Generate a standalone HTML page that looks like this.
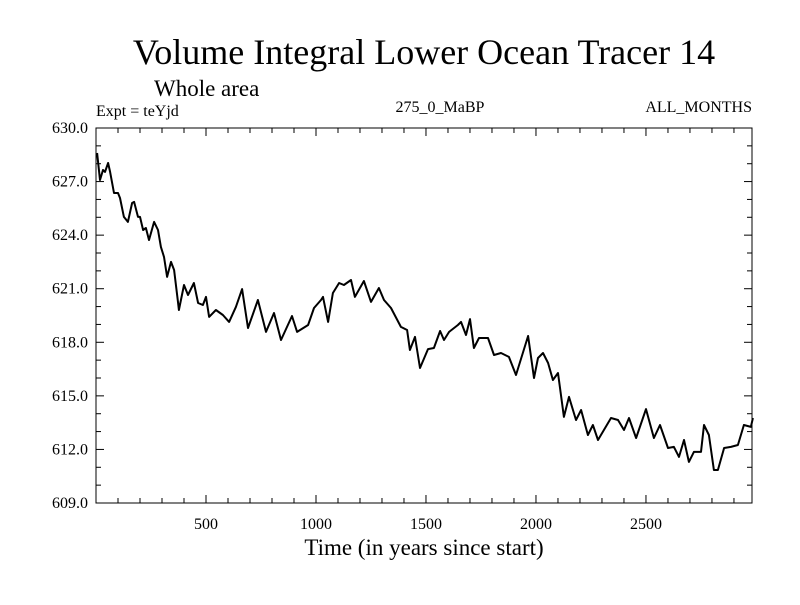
<!DOCTYPE html>
<html><head><meta charset="utf-8">
<style>
html,body{margin:0;padding:0;background:#fff;}
svg text{font-family:"Liberation Serif",serif;fill:#000;}
</style></head>
<body>
<svg id="chart" width="800" height="600" xmlns="http://www.w3.org/2000/svg">
<rect width="800" height="600" fill="#fff"/>
<text x="424" y="64" font-size="36" text-anchor="middle">Volume Integral Lower Ocean Tracer 14</text>
<text x="154" y="96" font-size="23">Whole area</text>
<text x="96" y="116" font-size="16">Expt = teYjd</text>
<text x="440" y="112" font-size="16" text-anchor="middle">275_0_MaBP</text>
<text x="752" y="112" font-size="16" text-anchor="end">ALL_MONTHS</text>
<text x="424" y="555" font-size="23" text-anchor="middle">Time (in years since start)</text>
<g id="axes"></g>
<path id="series" fill="none" stroke="#000" stroke-width="2" stroke-linejoin="round"/>
<rect x="96" y="128" width="656" height="375" fill="none" stroke="#000" stroke-width="1"/>
</svg>
<script>
const years=[5,18,32,41,55,64,82,100,109,127,145,164,173,191,200,214,227,241,264,282,295,309,323,341,355,373,377,400,418,445,464,486,500,514,545,577,605,636,664,691,736,773,809,841,891,914,964,991,1023,1032,1055,1077,1105,1127,1159,1177,1218,1250,1286,1309,1341,1386,1414,1427,1450,1473,1509,1536,1564,1582,1605,1645,1659,1682,1700,1718,1741,1782,1809,1841,1877,1909,1964,1991,2009,2032,2055,2077,2100,2127,2150,2182,2205,2236,2259,2282,2309,2341,2373,2400,2423,2455,2500,2536,2564,2600,2627,2650,2673,2695,2718,2750,2764,2786,2809,2827,2855,2886,2918,2945,2977,2986];
const values=[628.60,627.09,627.65,627.54,628.04,627.54,626.36,626.36,626.08,625.02,624.74,625.80,625.86,625.02,625.02,624.29,624.40,623.73,624.74,624.29,623.34,622.78,621.66,622.50,622.05,620.20,619.81,621.21,620.65,621.32,620.20,620.09,620.54,619.42,619.81,619.53,619.14,619.98,620.98,618.80,620.37,618.58,619.64,618.13,619.47,618.58,618.97,619.92,620.37,620.54,619.14,620.76,621.32,621.21,621.49,620.54,621.43,620.26,621.04,620.37,619.92,618.86,618.69,617.57,618.30,616.56,617.62,617.68,618.63,618.13,618.58,618.97,619.14,618.41,619.30,617.68,618.24,618.24,617.29,617.40,617.18,616.17,618.35,616.00,617.12,617.40,616.84,615.89,616.28,613.82,614.94,613.65,614.21,612.81,613.37,612.53,613.09,613.76,613.65,613.09,613.76,612.64,614.26,612.64,613.37,612.08,612.14,611.58,612.53,611.30,611.86,611.86,613.37,612.81,610.85,610.85,612.08,612.14,612.25,613.37,613.26,613.76];
const xTicks=[500,1000,1500,2000,2500];
const yTicks=[609,612,615,618,621,624,627,630];
const yTickLabels=["609.0","612.0","615.0","618.0","621.0","624.0","627.0","630.0"];

const X0=96,X1=752,Y0=128,Y1=503;
const xMin=0,xMax=2982,yMin=609,yMax=630;
const sx=v=>X0+(v-xMin)/(xMax-xMin)*(X1-X0);
const sy=v=>Y1-(v-yMin)/(yMax-yMin)*(Y1-Y0);
const NS="http://www.w3.org/2000/svg";
const axes=document.getElementById('axes');
function line(x1,y1,x2,y2){const l=document.createElementNS(NS,'line');
l.setAttribute('x1',x1);l.setAttribute('y1',y1);l.setAttribute('x2',x2);l.setAttribute('y2',y2);
l.setAttribute('stroke','#000');l.setAttribute('stroke-width','1');


axes.appendChild(l);}
for(let v=100;v<xMax;v+=100){const x=sx(v);const len=(v%500===0)?8:5;line(x,Y1,x,Y1-len);line(x,Y0,x,Y0+len);}
for(let v=yMin+1;v<yMax;v+=1){const y=sy(v);const len=(v%3===0)?8:5;line(X0,y,X0+len,y);line(X1,y,X1-len,y);}
xTicks.forEach(v=>{const t=document.createElementNS(NS,'text');
t.setAttribute('x',sx(v));t.setAttribute('y',Y1+26);t.setAttribute('font-size','16');t.setAttribute('text-anchor','middle');
t.textContent=v;


axes.appendChild(t);});
yTicks.forEach((v,i)=>{const t=document.createElementNS(NS,'text');
t.setAttribute('x',X0-8);t.setAttribute('y',sy(v)+5);t.setAttribute('font-size','16');t.setAttribute('text-anchor','end');
t.textContent=yTickLabels[i];


axes.appendChild(t);});
let d='';
years.forEach((yr,i)=>{d+=(i?'L':'M')+sx(yr).toFixed(1)+','+sy(values[i]).toFixed(1);});
document.getElementById('series').setAttribute('d',d);
</script>
</body></html>
